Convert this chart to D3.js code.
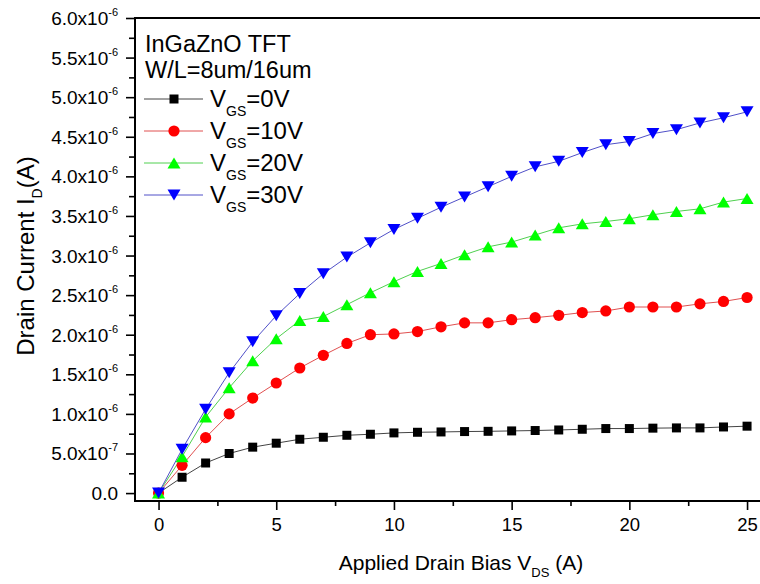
<!DOCTYPE html>
<html>
<head>
<meta charset="utf-8">
<script src="https://cdn.jsdelivr.net/npm/d3@7"></script>
<style>
    body { margin: 0; background: #fff; }
    svg { display: block; font-family: "Liberation Sans", Arial, sans-serif; }
    .axis-line { stroke: #000; stroke-width: 2; fill: none; }
    .tick line { stroke: #000; stroke-width: 1.6; }
    .domain { display: none; }
</style>
</head>
<body>
<svg id="chart" width="760" height="584"></svg>
<script>
// drain bias (V) and drain current, in units of 1e-6 A
var vds = [0, 1, 2, 3, 4, 5, 6, 7, 8, 9, 10, 11, 12, 13, 14, 15, 16, 17, 18, 19, 20, 21, 22, 23, 24, 25];
var id0 = [0, 0.20, 0.38, 0.50, 0.58, 0.63, 0.68, 0.705, 0.73, 0.743, 0.76, 0.768, 0.772, 0.777, 0.78, 0.785, 0.79, 0.797, 0.806, 0.815, 0.815, 0.82, 0.823, 0.823, 0.835, 0.845];
var id10 = [0, 0.35, 0.70, 1.00, 1.20, 1.39, 1.58, 1.74, 1.89, 2.00, 2.01, 2.04, 2.10, 2.15, 2.15, 2.19, 2.215, 2.245, 2.28, 2.30, 2.35, 2.35, 2.35, 2.39, 2.42, 2.47];
var id20 = [0, 0.46, 0.96, 1.33, 1.67, 1.95, 2.18, 2.23, 2.38, 2.53, 2.67, 2.80, 2.90, 3.01, 3.11, 3.17, 3.26, 3.35, 3.40, 3.43, 3.465, 3.515, 3.557, 3.59, 3.675, 3.72];
var id30 = [0, 0.553, 1.06, 1.52, 1.91, 2.24, 2.52, 2.77, 2.98, 3.16, 3.33, 3.47, 3.61, 3.74, 3.87, 4.0, 4.12, 4.19, 4.30, 4.40, 4.44, 4.54, 4.59, 4.675, 4.74, 4.815];
var seriesNames = ["0V", "10V", "20V", "30V"];
var xTicks = [0, 5, 10, 15, 20, 25];
var yTicks = [0, 0.5, 1.0, 1.5, 2.0, 2.5, 3.0, 3.5, 4.0, 4.5, 5.0, 5.5, 6.0];

var svg = d3.select("#chart");
var plotLeft = 135, plotRight = 760, plotTop = 18, plotBottom = 501;

var x = d3.scaleLinear().domain([-1, 25.55]).range([plotLeft, plotRight]);
var y = d3.scaleLinear().domain([-0.1, 6.0]).range([plotBottom, plotTop]);

var styles = [
    { fill: "#000", line: "#444", shape: "square" },
    { fill: "#ff0000", line: "#e05050", shape: "circle" },
    { fill: "#00ff00", line: "#50d050", shape: "up" },
    { fill: "#0000ff", line: "#5050c8", shape: "down" }
];
var series = [id0, id10, id20, id30];

function markerPath(shape) {
    if (shape == "square") return "M-4.5,-4.5H4.5V4.5H-4.5Z";
    if (shape == "circle") return "M5.6,0A5.6,5.6 0 1,1 -5.6,0A5.6,5.6 0 1,1 5.6,0Z";
    if (shape == "up") return "M0,-5.5L6.5,5.5L-6.5,5.5Z";
    return "M0,5.5L6.5,-5.5L-6.5,-5.5Z";
}

// axes
var xMinor = d3.axisBottom(x).tickValues(d3.range(2.5, 25, 5)).tickSize(5).tickFormat("");
var xMajor = d3.axisBottom(x).tickValues(xTicks).tickSize(9).tickPadding(8).tickFormat(d3.format("d"));
svg.append("g").attr("transform", "translate(0," + plotBottom + ")").call(xMinor);
var gx = svg.append("g").attr("transform", "translate(0," + plotBottom + ")").call(xMajor);
gx.selectAll("text").attr("font-size", 18.5).attr("fill", "#000").attr("font-family", "Liberation Sans, Arial");

var yMinor = d3.axisLeft(y).tickValues(d3.range(0.25, 6, 0.5)).tickSize(6).tickFormat("");
var yMajor = d3.axisLeft(y).tickValues(yTicks).tickSize(9).tickFormat("");
svg.append("g").attr("transform", "translate(" + plotLeft + ",0)").call(yMinor);
svg.append("g").attr("transform", "translate(" + plotLeft + ",0)").call(yMajor);

var yLabels = svg.append("g").selectAll("text").data(yTicks).enter().append("text")
    .attr("x", 118)
    .attr("y", function (d) { return y(d) + 7; })
    .attr("text-anchor", "end")
    .attr("font-size", 19);
yLabels.each(function (d) {
    var t = d3.select(this);
    if (d == 0) { t.text("0.0"); return; }
    var mant = d < 1 ? (d * 10).toFixed(1) : d.toFixed(1);
    var exp = d < 1 ? "-7" : "-6";
    t.append("tspan").text(mant + "x10");
    t.append("tspan").attr("dy", -9).attr("font-size", 11).text(exp);
});

svg.append("line").attr("class", "axis-line").attr("x1", plotLeft).attr("y1", plotTop).attr("x2", plotLeft).attr("y2", plotBottom + 1);
svg.append("line").attr("class", "axis-line").attr("x1", plotLeft - 1).attr("y1", plotBottom).attr("x2", plotRight).attr("y2", plotBottom);
svg.append("line").attr("class", "axis-line").attr("x1", plotLeft - 1).attr("y1", plotTop).attr("x2", plotRight).attr("y2", plotTop);

// curves
var line = d3.line().x(function (d, i) { return x(vds[i]); }).y(function (d) { return y(d); });
series.forEach(function (vals, k) {
    svg.append("path").attr("d", line(vals)).attr("fill", "none")
        .attr("stroke", styles[k].line).attr("stroke-width", 1);
});
series.forEach(function (vals, k) {
    svg.append("g").selectAll("path").data(vals).enter().append("path")
        .attr("d", markerPath(styles[k].shape))
        .attr("fill", styles[k].fill)
        .attr("transform", function (d, i) { return "translate(" + x(vds[i]) + "," + y(d) + ")"; });
});

// legend
svg.append("text").attr("x", 145).attr("y", 52).attr("font-size", 23.5).text("InGaZnO TFT");
svg.append("text").attr("x", 145).attr("y", 78).attr("font-size", 23.5).text("W/L=8um/16um");
seriesNames.forEach(function (name, k) {
    var ly = 99 + k * 32;
    svg.append("line").attr("x1", 144).attr("x2", 203).attr("y1", ly).attr("y2", ly)
        .attr("stroke", styles[k].line).attr("stroke-width", 1);
    svg.append("path").attr("d", markerPath(styles[k].shape)).attr("fill", styles[k].fill)
        .attr("transform", "translate(174," + ly + ")");
    var t = svg.append("text").attr("x", 210).attr("y", ly + 8).attr("font-size", 24);
    t.append("tspan").text("V");
    t.append("tspan").attr("dy", 9).attr("font-size", 14).text("GS");
    t.append("tspan").attr("dy", -9).text("=" + name);
});

// axis titles
var yt = svg.append("text").attr("transform", "translate(34,256) rotate(-90)")
    .attr("text-anchor", "middle").attr("font-size", 24);
yt.append("tspan").text("Drain Current I");
yt.append("tspan").attr("dy", 8).attr("font-size", 14).text("D");
yt.append("tspan").attr("dy", -8).text("(A)");

var xt = svg.append("text").attr("x", 461).attr("y", 570)
    .attr("text-anchor", "middle").attr("font-size", 21);
xt.append("tspan").text("Applied Drain Bias V");
xt.append("tspan").attr("dy", 7).attr("font-size", 13).text("DS");
xt.append("tspan").attr("dy", -7).text(" (A)");
</script>
</body>
</html>
